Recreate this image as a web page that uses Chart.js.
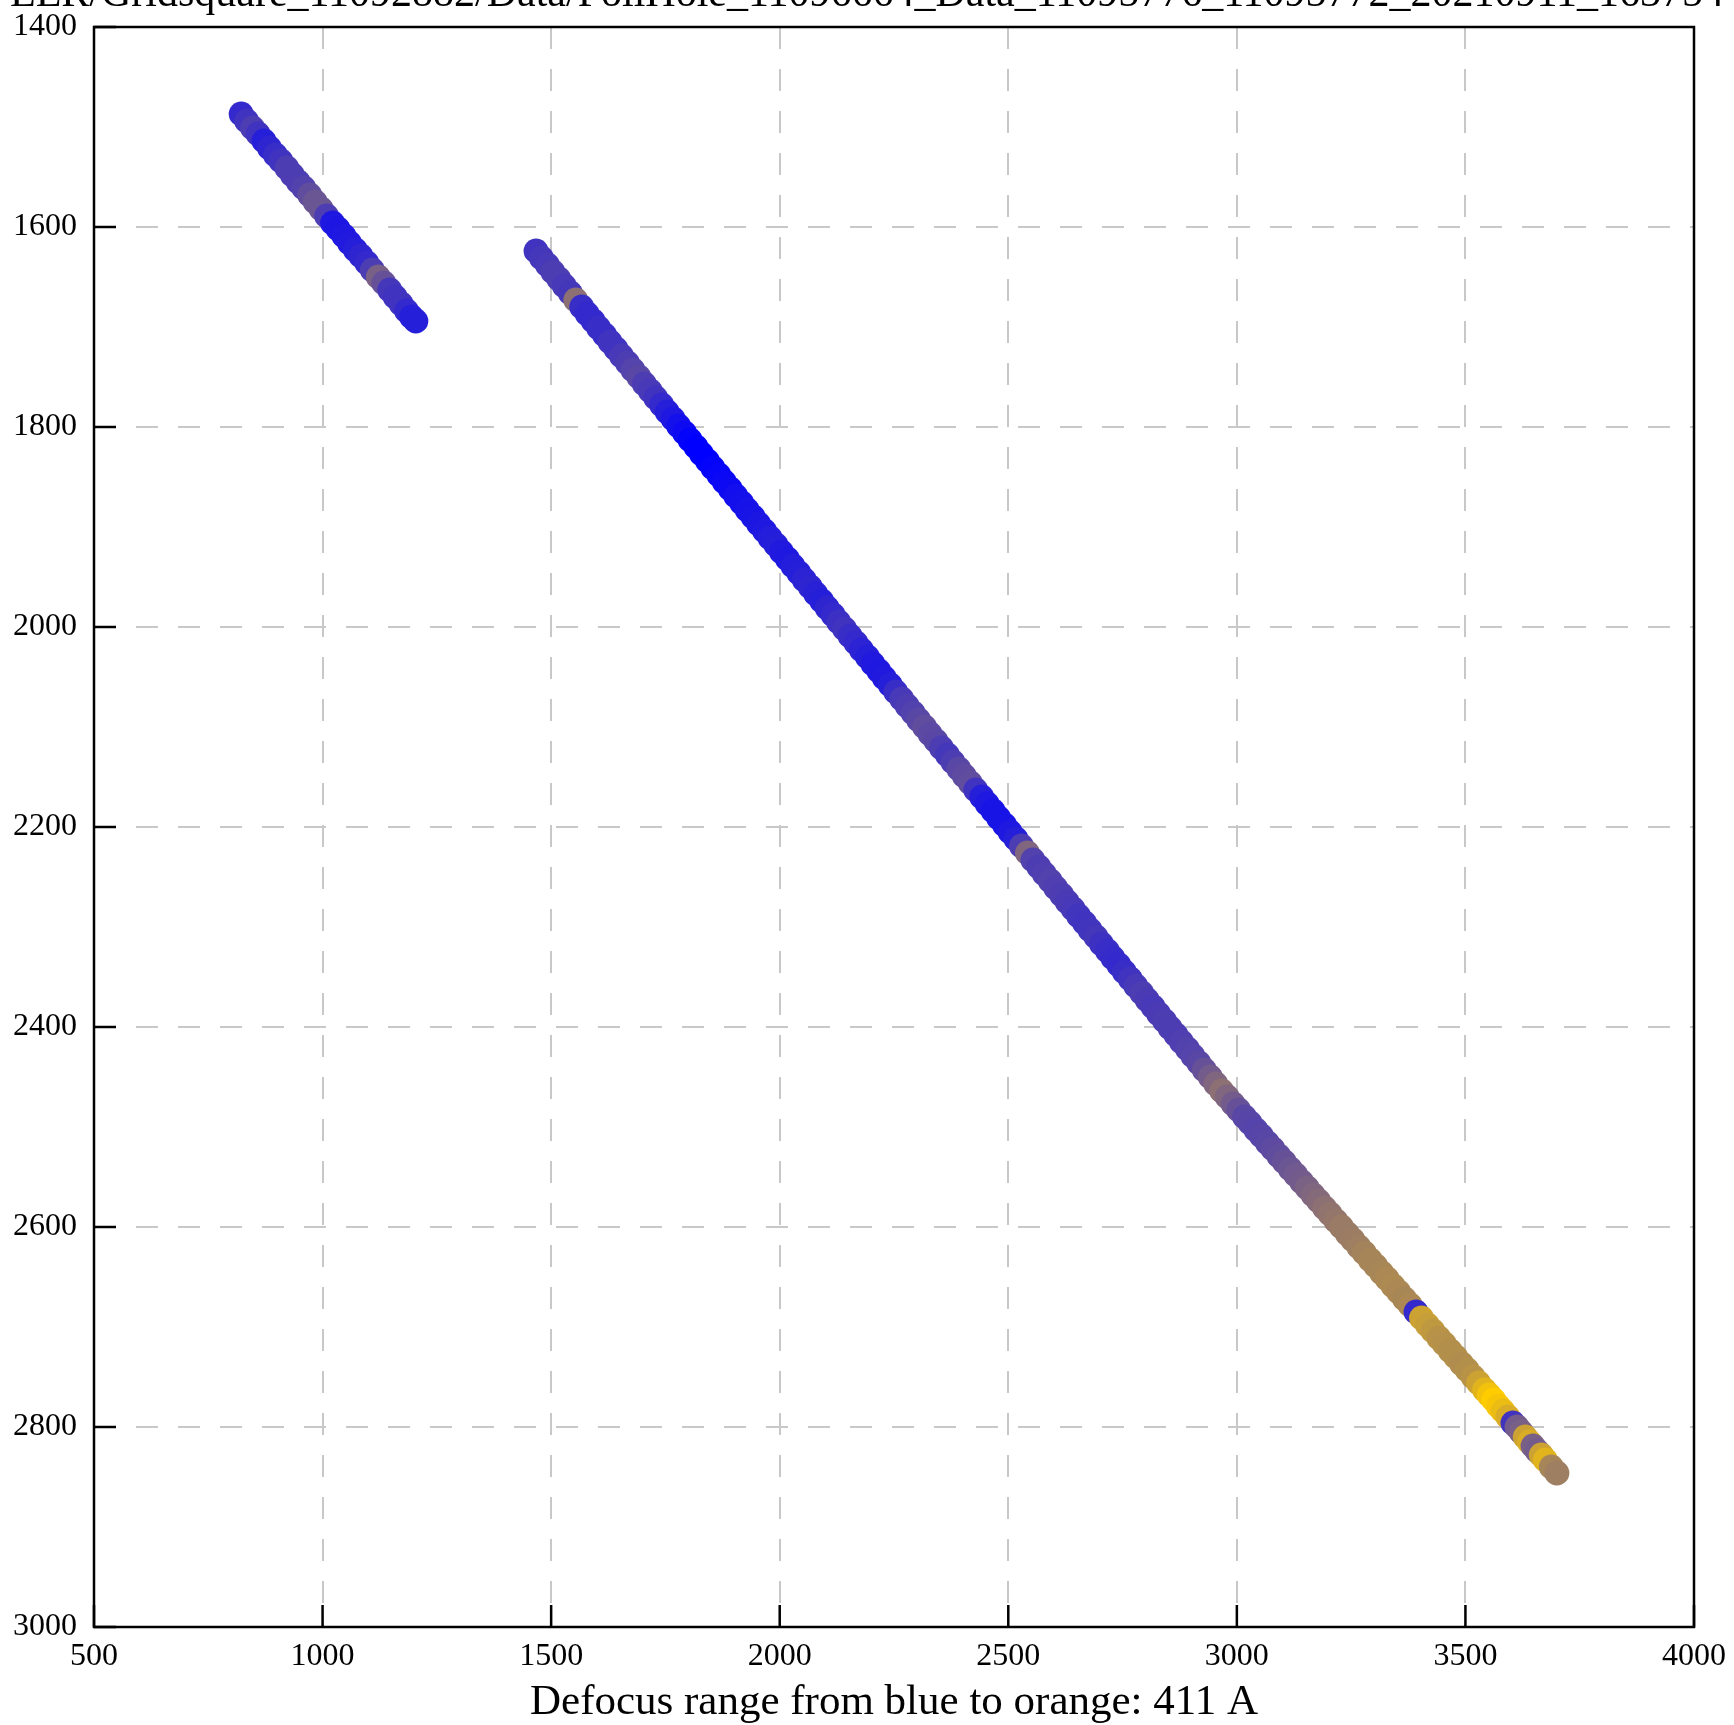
<!DOCTYPE html>
<html lang="en">
  <head>
    <meta charset="UTF-8" />
    <title>Defocus map</title>
    <script src="https://cdn.jsdelivr.net/npm/chart.js"></script>
    <style>
      html, body { margin: 0; padding: 0; background: #fff; }
      canvas { display: block; }
    </style>
  </head>
  <body>
    <canvas id="defocusChart" width="1734" height="1725" style="width:1734px;height:1725px"></canvas>

    <script>
      // stage positions of each foil hole, in plot order
      const stageX = [
        // short run, top left
        822, 834, 847, 859, 872, 884, 897, 909, 922, 934, 947, 959, 972, 984, 997, 1009,
        1022, 1034, 1047, 1059, 1072, 1084, 1097, 1109, 1122, 1134, 1147, 1159, 1172, 1184, 1195, 1204,
        // long run
        1467, 1479, 1492, 1504, 1517, 1529, 1542, 1554, 1567, 1579,
        1592, 1604, 1617, 1629, 1642, 1654, 1667, 1679, 1692, 1704,
        1717, 1729, 1742, 1754, 1767, 1779, 1792, 1804, 1817, 1829,
        1842, 1854, 1867, 1879, 1892, 1904, 1917, 1929, 1942, 1954,
        1967, 1979, 1992, 2004, 2017, 2029, 2042, 2054, 2067, 2079,
        2092, 2104, 2117, 2129, 2142, 2154, 2167, 2179, 2192, 2204,
        2217, 2229, 2242, 2254, 2267, 2279, 2292, 2304, 2317, 2329,
        2342, 2354, 2367, 2379, 2392, 2404, 2417, 2429, 2442, 2454,
        2467, 2479, 2492, 2504, 2517, 2529, 2542, 2554, 2567, 2579,
        2592, 2604, 2617, 2629, 2642, 2654, 2667, 2679, 2692, 2704,
        2717, 2729, 2742, 2754, 2767, 2779, 2792, 2804, 2817, 2829,
        2842, 2854, 2867, 2879, 2892, 2904, 2917, 2929, 2942,
        2954, 2967, 2979, 2992, 3004, 3017, 3029, 3042, 3054, 3067,
        3079, 3092, 3104, 3117, 3129, 3142, 3154, 3167, 3179, 3192,
        3204, 3217, 3229, 3242, 3254, 3267, 3279, 3292, 3304, 3317,
        3329, 3342, 3354, 3367, 3379, 3392, 3404, 3417, 3429, 3442,
        3454, 3467, 3479, 3492, 3504, 3517, 3529, 3542, 3552, 3562,
        3572, 3582, 3593, 3604, 3613, 3622, 3631, 3640, 3648, 3657,
        3666, 3675, 3688, 3700
      ];
      const stageY = [
        1487, 1494, 1501, 1507, 1514, 1521, 1528, 1534, 1541, 1548, 1555, 1561, 1568, 1575, 1582, 1589,
        1596, 1602, 1609, 1616, 1623, 1629, 1636, 1643, 1650, 1656, 1663, 1670, 1677, 1684, 1690, 1694,

        1624, 1631, 1638, 1645, 1652, 1659, 1666, 1673, 1680, 1687,
        1694, 1701, 1708, 1715, 1722, 1729, 1736, 1743, 1750, 1757,
        1764, 1771, 1778, 1785, 1792, 1799, 1806, 1813, 1820, 1827,
        1834, 1841, 1848, 1855, 1862, 1869, 1876, 1883, 1890, 1897,
        1904, 1911, 1918, 1925, 1932, 1939, 1946, 1953, 1960, 1967,
        1974, 1981, 1988, 1995, 2002, 2009, 2016, 2023, 2030, 2037,
        2044, 2051, 2058, 2065, 2072, 2079, 2086, 2093, 2100, 2107,
        2114, 2121, 2128, 2135, 2142, 2149, 2156, 2163, 2170, 2177,
        2184, 2191, 2198, 2205, 2212, 2219, 2226, 2233, 2240, 2247,
        2254, 2261, 2268, 2275, 2282, 2289, 2296, 2303, 2310, 2317,
        2324, 2331, 2338, 2345, 2352, 2359, 2366, 2373, 2380, 2387,
        2394, 2401, 2408, 2415, 2422, 2429, 2436, 2443, 2450,
        2457, 2464, 2470, 2477, 2483, 2490, 2496, 2503, 2509, 2516,
        2522, 2529, 2535, 2542, 2548, 2555, 2561, 2568, 2574, 2581,
        2587, 2594, 2600, 2607, 2613, 2620, 2626, 2633, 2639, 2646,
        2652, 2659, 2665, 2672, 2678, 2685, 2691, 2698, 2704, 2711,
        2717, 2724, 2730, 2737, 2743, 2750, 2756, 2763, 2768, 2773,
        2779, 2784, 2790, 2796, 2800, 2805, 2810, 2815, 2819, 2824,
        2828, 2833, 2840, 2846
      ];
      // defocus per hole in Angstrom (colour goes blue -> orange)
      const defocus = [
        15082, 15103, 15123, 15103, 15062, 15074, 15090, 15103, 15123, 15123, 15123, 15132, 15156, 15173, 15173, 15123,
        15049, 15045, 15049, 15053, 15062, 15074, 15082, 15123, 15193, 15164, 15111, 15103, 15103, 15082, 15062, 15062,

        15103, 15111, 15115, 15123, 15123, 15115, 15111, 15226, 15090, 15082,
        15082, 15090, 15090, 15103, 15103, 15115, 15123, 15136, 15144, 15123,
        15115, 15103, 15082, 15062, 15049, 15033, 15021, 15008, 15000, 15000,
        15000, 15008, 15012, 15016, 15021, 15029, 15033, 15037, 15041, 15045,
        15049, 15058, 15062, 15053, 15049, 15058, 15062, 15070, 15074, 15066,
        15062, 15074, 15082, 15095, 15103, 15090, 15082, 15070, 15062, 15053,
        15049, 15053, 15062, 15090, 15115, 15123, 15132, 15144, 15156, 15148,
        15144, 15123, 15111, 15123, 15144, 15152, 15156, 15103, 15062, 15049,
        15041, 15041, 15041, 15049, 15062, 15123, 15206, 15132, 15123, 15127,
        15132, 15127, 15123, 15119, 15115, 15107, 15103, 15107, 15111, 15099,
        15090, 15086, 15082, 15090, 15103, 15115, 15123, 15119, 15115, 15119,
        15123, 15123, 15123, 15127, 15132, 15136, 15144, 15164, 15185,
        15206, 15226, 15206, 15185, 15164, 15144, 15140, 15136, 15140, 15144,
        15152, 15156, 15164, 15173, 15181, 15185, 15197, 15206, 15214, 15226,
        15234, 15238, 15247, 15247, 15251, 15255, 15263, 15267, 15267, 15271,
        15275, 15279, 15275, 15271, 15275, 15082, 15329, 15321, 15308, 15296,
        15292, 15288, 15288, 15284, 15288, 15296, 15329, 15362, 15390, 15411,
        15399, 15378, 15349, 15103, 15185, 15193, 15329, 15349, 15193, 15185,
        15329, 15362, 15267, 15255
      ];

      const xTicks = [500, 1000, 1500, 2000, 2500, 3000, 3500, 4000];
      const yTicks = [1400, 1600, 1800, 2000, 2200, 2400, 2600, 2800, 3000];
      const titleText = 'EER/Gridsquare_11092882/Data/FoilHole_11096664_Data_11095776_11095772_20210911_163754';

      const dMin = Math.min(...defocus);
      const dMax = Math.max(...defocus);
      const colors = defocus.map(d => {
        const t = (d - dMin) / (dMax - dMin);
        return `rgb(${Math.round(255 * t)}, ${Math.round(204 * t)}, ${Math.round(255 * (1 - t))})`;
      });

      const serif = '"Liberation Serif", "DejaVu Serif", serif';

      // box round the plot, inward ticks and the clipped title line
      const framePlugin = {
        id: 'frame',
        afterDraw(chart) {
          const { ctx, chartArea: a, scales } = chart;
          ctx.save();
          ctx.strokeStyle = '#000';
          ctx.lineWidth = 2.5;
          ctx.strokeRect(a.left, a.top, a.right - a.left, a.bottom - a.top);
          ctx.beginPath();
          scales.x.ticks.forEach(t => {
            const px = scales.x.getPixelForValue(t.value);
            ctx.moveTo(px, a.bottom);
            ctx.lineTo(px, a.bottom - 22);
          });
          scales.y.ticks.forEach(t => {
            const py = scales.y.getPixelForValue(t.value);
            ctx.moveTo(a.left, py);
            ctx.lineTo(a.left + 22, py);
          });
          ctx.stroke();

          ctx.fillStyle = '#000';
          ctx.font = '42px ' + serif;
          ctx.textAlign = 'left';
          ctx.textBaseline = 'alphabetic';
          ctx.fillText(titleText, 10, 6);
          ctx.restore();
        }
      };

      const ctx = document.getElementById('defocusChart').getContext('2d');
      new Chart(ctx, {
        type: 'scatter',
        data: {
          datasets: [{
            data: stageX.map((x, i) => ({ x: x, y: stageY[i] })),
            backgroundColor: colors,
            borderWidth: 0,
            pointRadius: 12.5,
            pointHoverRadius: 12.5
          }]
        },
        options: {
          responsive: false,
          animation: false,
          devicePixelRatio: 1,
          events: [],
          layout: { padding: { left: 0, top: 27, right: 40, bottom: 0 } },
          plugins: {
            legend: { display: false },
            tooltip: { enabled: false }
          },
          scales: {
            x: {
              type: 'linear',
              min: 500,
              max: 4000,
              afterFit: s => {
                s.height = 98;
                s.paddingLeft = 0;
                s.paddingRight = 0;
              },
              afterBuildTicks: s => { s.ticks = xTicks.map(v => ({ value: v })); },
              grid: { color: '#c8c8c8', lineWidth: 2, drawTicks: false },
              border: { display: false, dash: [22, 20] },
              ticks: {
                padding: 10,
                maxRotation: 0,
                color: '#000',
                font: { family: serif, size: 32 },
                callback: v => String(v)
              },
              title: {
                display: true,
                text: `Defocus range from blue to orange: ${dMax - dMin} A`,
                color: '#000',
                font: { family: serif, size: 43 },
                padding: { top: 0, bottom: -4 }
              }
            },
            y: {
              type: 'linear',
              reverse: true,
              min: 1400,
              max: 3000,
              afterFit: s => {
                s.width = 94;
                s.paddingTop = 0;
                s.paddingBottom = 0;
              },
              afterBuildTicks: s => { s.ticks = yTicks.map(v => ({ value: v })); },
              grid: { color: '#c8c8c8', lineWidth: 2, drawTicks: false },
              border: { display: false, dash: [22, 20] },
              ticks: {
                padding: 17,
                color: '#000',
                font: { family: serif, size: 32 },
                callback: v => String(v)
              }
            }
          }
        },
        plugins: [framePlugin]
      });
    </script>
  </body>
</html>
